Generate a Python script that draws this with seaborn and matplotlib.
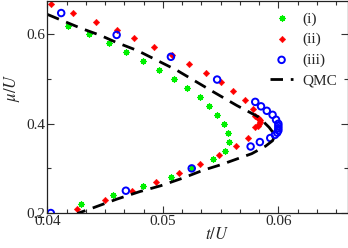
import numpy as np
import pandas as pd
import matplotlib
matplotlib.use("Agg")
import matplotlib.pyplot as plt
from matplotlib.ticker import AutoMinorLocator, MultipleLocator
import seaborn as sns

# ---- data ----
# (i) green stars
t_i = [0.0429, 0.0457, 0.0483, 0.0507, 0.0525, 0.0543, 0.0554, 0.0557, 0.0556,
       0.0553, 0.0547, 0.0540, 0.0532, 0.0521, 0.0510, 0.0497, 0.0483, 0.0468,
       0.0453, 0.0436, 0.0418]
mu_i = [0.22, 0.24, 0.26, 0.28, 0.30, 0.32, 0.34, 0.36, 0.38, 0.40, 0.42, 0.44,
        0.46, 0.48, 0.50, 0.52, 0.54, 0.56, 0.58, 0.60, 0.62]

# (ii) red diamonds
t_ii = [0.0426, 0.0450, 0.0473, 0.0494, 0.0514, 0.0532, 0.0549, 0.0563, 0.0574,
        0.0580, 0.0582, 0.0583, 0.0584, 0.0584, 0.0583, 0.0582, 0.0580,
        0.0578, 0.0571, 0.0561, 0.0550, 0.0537, 0.0523, 0.0508, 0.0492,
        0.0475, 0.0460, 0.0442, 0.0422, 0.0403]
mu_ii = [0.209, 0.229, 0.250, 0.269, 0.290, 0.310, 0.330, 0.350, 0.369,
         0.392, 0.396, 0.400, 0.404, 0.408, 0.411, 0.414, 0.418,
         0.433, 0.453, 0.473, 0.493, 0.513, 0.533, 0.553, 0.573,
         0.592, 0.610, 0.629, 0.648, 0.668]

# (iii) blue open circles
t_iii = [0.0403, 0.0468, 0.0525, 0.0576, 0.0584, 0.0593, 0.0597, 0.0599, 0.0600,
         0.0600, 0.0600, 0.0600, 0.0598, 0.0595, 0.0590, 0.0585, 0.0580,
         0.0547, 0.0507, 0.0460, 0.0412]
mu_iii = [0.200, 0.250, 0.300, 0.349, 0.359, 0.368, 0.375, 0.380, 0.385,
          0.390, 0.395, 0.400, 0.409, 0.420, 0.429, 0.439, 0.449,
          0.499, 0.550, 0.599, 0.648]

# QMC boundary (dashed)
t_qmc = [0.0400, 0.0430, 0.0446, 0.0459, 0.0478, 0.0495, 0.0512, 0.0544, 0.0564,
         0.0583, 0.0592, 0.0597, 0.0595, 0.0589, 0.0577, 0.0564, 0.0550, 0.0535,
         0.0517, 0.0498, 0.0480, 0.0460, 0.0440, 0.0426]
mu_qmc = [0.645, 0.613, 0.598, 0.583, 0.564, 0.542, 0.520, 0.471, 0.441,
          0.415, 0.392, 0.375, 0.362, 0.350, 0.333, 0.321, 0.308, 0.296,
          0.278, 0.261, 0.248, 0.231, 0.212, 0.199]

labels = ["(i)", "(ii)", "(iii)", "QMC"]

# ---- style ----
sns.set_style("ticks")
plt.rcParams["font.family"] = ["Liberation Serif", "DejaVu Serif"]
plt.rcParams["mathtext.fontset"] = "stix"
plt.rcParams["font.size"] = 11

fig = plt.figure(figsize=(3.48, 2.48), dpi=100)
ax = fig.add_axes([0.136, 0.141, 0.863, 0.855])

df_i = pd.DataFrame({"t": t_i, "mu": mu_i})
df_ii = pd.DataFrame({"t": t_ii, "mu": mu_ii})
df_iii = pd.DataFrame({"t": t_iii, "mu": mu_iii})
df_qmc = pd.DataFrame({"t": t_qmc, "mu": mu_qmc})

sns.scatterplot(data=df_i, x="t", y="mu", ax=ax, marker=(8, 2, 0), s=13,
                color="#00f000", linewidth=1.1, label=labels[0])
sns.scatterplot(data=df_ii, x="t", y="mu", ax=ax, marker="D", s=11,
                color="#ff0000", edgecolor="#ff0000", linewidth=0.3, label=labels[1])
sns.scatterplot(data=df_iii, x="t", y="mu", ax=ax, marker="o", s=22,
                color="#0000ff", facecolors="none", edgecolor="#0000ff",
                linewidth=1.4, label=labels[2])
sns.lineplot(data=df_qmc, x="t", y="mu", ax=ax, sort=False, estimator=None,
             color="black", linewidth=2.0, dashes=(4.5, 2.8), label=labels[3])

ax.set_xlim(0.04, 0.066)
ax.set_ylim(0.2, 0.675)
ax.xaxis.set_major_locator(MultipleLocator(0.01))
ax.xaxis.set_minor_locator(AutoMinorLocator(6))
ax.yaxis.set_major_locator(MultipleLocator(0.2))
ax.yaxis.set_minor_locator(AutoMinorLocator(2))
ax.xaxis.set_major_formatter(plt.FuncFormatter(lambda v, p: f"{v:.2f}"))
ax.yaxis.set_major_formatter(plt.FuncFormatter(lambda v, p: f"{v:.1f}"))

ax.tick_params(which="both", direction="in", top=True, right=True,
               width=0.8, color="#333333", labelsize=11, pad=1.5)
ax.tick_params(which="major", length=5)
ax.tick_params(which="minor", length=3)
for sp in ax.spines.values():
    sp.set_linewidth(0.9)
    sp.set_color("#222222")

ax.set_xlabel(r"$t/U$", fontsize=12)
ax.set_ylabel(r"$\mu/U$", fontsize=12)
ax.xaxis.set_label_coords(0.566, -0.065)
ax.yaxis.set_label_coords(-0.085, 0.59)

ax.legend(loc="upper right", frameon=False, fontsize=11, handlelength=1.5,
          handletextpad=0.6, labelspacing=0.45, borderaxespad=0.3)

fig.savefig("out.png", dpi=100)
